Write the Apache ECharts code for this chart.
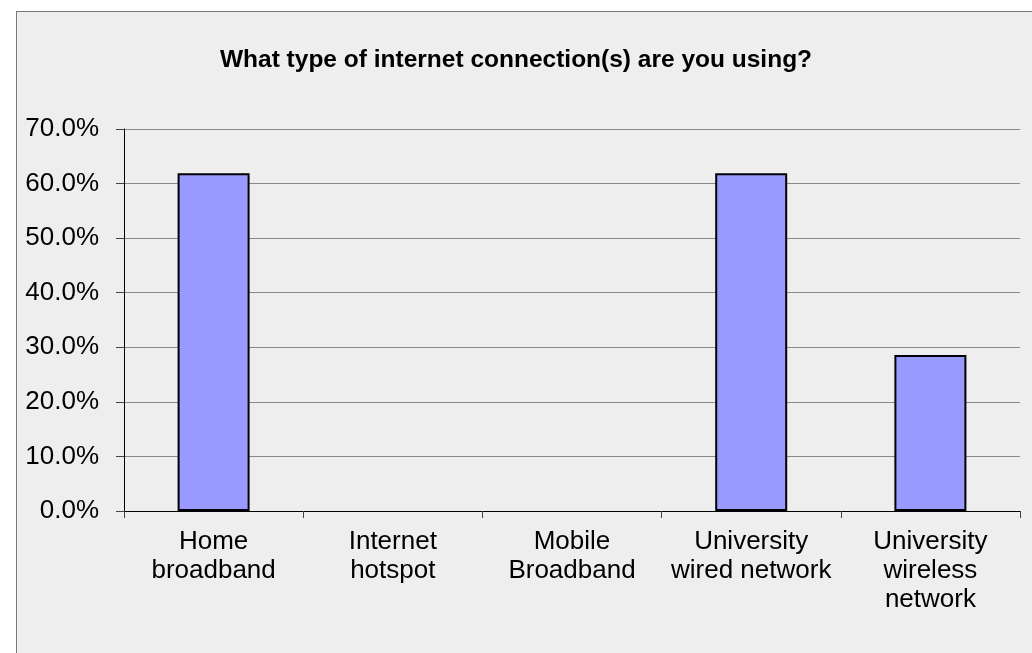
<!DOCTYPE html>
<html>
<head>
<meta charset="utf-8">
<script src="https://cdn.jsdelivr.net/npm/echarts@6/dist/echarts.min.js"></script>
<style>
  html, body { margin: 0; padding: 0; background: #ffffff; }
  #frame { position: absolute; left: 16px; top: 11px; width: 1030px; height: 660px;
           background: #eeeeee; border-left: 1px solid #777; border-top: 1px solid #777; }
  #chart { position: absolute; left: 0; top: 0; width: 1032px; height: 653px; }
</style>
</head>
<body>
<div id="frame"></div>
<div id="chart"></div>
<script>
// Survey responses: share of respondents per connection type
const categories = [
  'Home\nbroadband',
  'Internet\nhotspot',
  'Mobile\nBroadband',
  'University\nwired network',
  'University\nwireless\nnetwork'
];
const shares = [61.9, 0, 0, 61.9, 28.6];
const yTicks = { min: 0, max: 70, interval: 10 };

// zero-valued bars get no outline so nothing is drawn on the baseline
const barData = shares.map(v => ({
  value: v,
  itemStyle: { borderWidth: v === 0 ? 0 : 2 }
}));

const chart = echarts.init(document.getElementById('chart'), null, { renderer: 'canvas' });
chart.setOption({
  backgroundColor: 'transparent',
  animation: false,
  title: {
    text: 'What type of internet connection(s) are you using?',
    left: 'center',
    top: 43,
    textStyle: {
      fontFamily: '"Liberation Sans", Arial, sans-serif',
      fontWeight: 'bold',
      fontSize: 24.5,
      color: '#000'
    }
  },
  grid: { left: 124, right: 12, top: 129, bottom: 142, containLabel: false },
  xAxis: {
    type: 'category',
    data: categories,
    axisLine: { lineStyle: { color: '#000', width: 1 } },
    axisTick: { show: true, alignWithLabel: false, length: 7, lineStyle: { color: '#444' } },
    axisLabel: {
      interval: 0,
      margin: 16,
      fontFamily: '"Liberation Sans", Arial, sans-serif',
      fontSize: 26,
      lineHeight: 29,
      color: '#000'
    }
  },
  yAxis: {
    type: 'value',
    min: yTicks.min,
    max: yTicks.max,
    interval: yTicks.interval,
    axisLine: { show: true, lineStyle: { color: '#000', width: 1 } },
    axisTick: { show: true, length: 8, lineStyle: { color: '#444' } },
    splitLine: { show: true, lineStyle: { color: '#888', width: 1 } },
    axisLabel: {
      margin: 25,
      fontFamily: '"Liberation Sans", Arial, sans-serif',
      fontSize: 26,
      color: '#000',
      formatter: v => v.toFixed(1) + '%'
    }
  },
  series: [{
    type: 'bar',
    data: barData,
    barWidth: 72,
    itemStyle: { color: '#9999ff', borderColor: '#000', borderWidth: 2 }
  }]
});
</script>
</body>
</html>
